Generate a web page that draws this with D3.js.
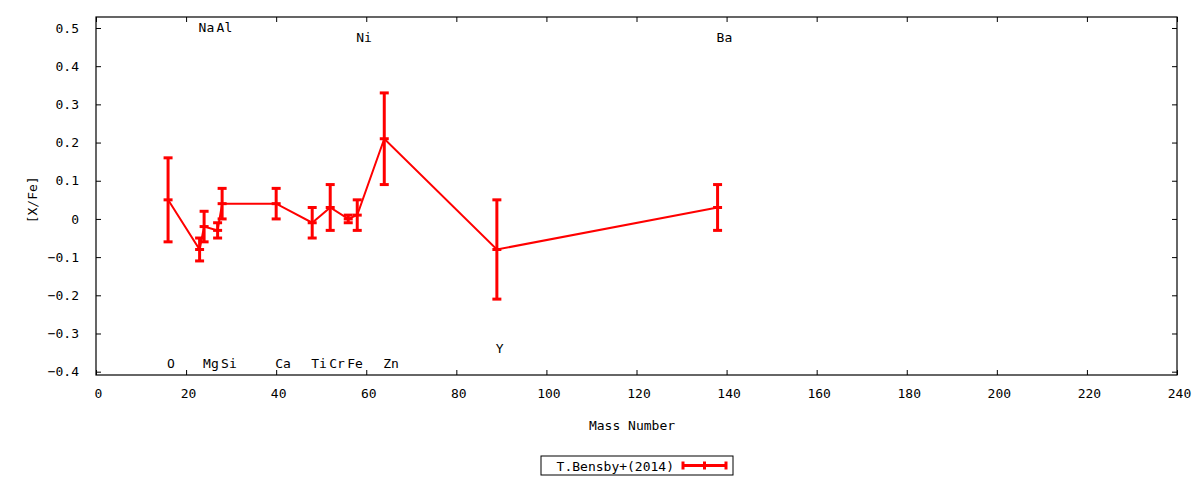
<!DOCTYPE html>
<html>
<head>
<meta charset="utf-8">
<script src="https://cdn.jsdelivr.net/npm/d3@7"></script>
<style>
  body { margin: 0; background: #fff; }
  text { font-family: "DejaVu Sans Mono", monospace; font-size: 13px; fill: #000; }
</style>
</head>
<body>
<div id="chart"></div>
<script>
// Data: element, mass number, [X/Fe], error
var elements = ["O", "Na", "Mg", "Al", "Si", "Ca", "Ti", "Cr", "Fe", "Ni", "Zn", "Y", "Ba"];
var massNumbers = [16, 23, 24, 27, 28, 40, 48, 52, 56, 58, 64, 89, 138];
var abundances = [0.05, -0.08, -0.02, -0.03, 0.04, 0.04, -0.01, 0.03, 0.00, 0.01, 0.21, -0.08, 0.03];
var errors = [0.11, 0.03, 0.04, 0.02, 0.04, 0.04, 0.04, 0.06, 0.01, 0.04, 0.12, 0.13, 0.06];
// y position (data units) of each element label
var labelY = [-0.378, 0.5, -0.378, 0.5, -0.378, -0.378, -0.378, -0.378, -0.378, 0.475, -0.378, -0.34, 0.475];

var xTicks = d3.range(0, 241, 20);
var yTicks = [-0.4, -0.3, -0.2, -0.1, 0, 0.1, 0.2, 0.3, 0.4, 0.5];
var seriesName = "T.Bensby+(2014)";

var svgWidth = 1200;
var svgHeight = 480;

var margin = { top: 17, right: 23, bottom: 105, left: 96 };
var width = svgWidth - margin.left - margin.right;
var height = svgHeight - margin.top - margin.bottom;

var svg = d3.select("#chart")
    .append("svg")
    .attr("width", svgWidth)
    .attr("height", svgHeight);

var chartGroup = svg.append("g")
    .attr("transform", `translate(${margin.left}, ${margin.top})`);

var data = elements.map(function (el, i) {
    return { el: el, mass: massNumbers[i], val: abundances[i], err: errors[i], ly: labelY[i] };
});

var xScale = d3.scaleLinear().domain([0, 240]).range([0, width]);
var yScale = d3.scaleLinear().domain([-0.4087, 0.5288]).range([height, 0]);

var fmt = function (d) { return d === 0 ? "0" : d3.format(".1f")(d); };

// Axes (gnuplot style: inward ticks, mirrored)
var bottomAxis = d3.axisBottom(xScale).tickValues(xTicks).tickSizeInner(-5).tickSizeOuter(0).tickPadding(14);
var topAxis = d3.axisTop(xScale).tickValues(xTicks).tickSizeInner(-5).tickSizeOuter(0).tickFormat("");
var leftAxis = d3.axisLeft(yScale).tickValues(yTicks).tickSizeInner(-5).tickSizeOuter(0).tickPadding(17).tickFormat(fmt);
var rightAxis = d3.axisRight(yScale).tickValues(yTicks).tickSizeInner(-5).tickSizeOuter(0).tickFormat("");

function styleAxis(g) {
    g.select(".domain").remove();
    g.selectAll("line").attr("stroke", "#000").attr("stroke-width", 1);
    g.selectAll("text").attr("font-family", "DejaVu Sans Mono").attr("font-size", 13).attr("fill", "#000");
}

chartGroup.append("g").attr("transform", `translate(0, ${height})`).call(bottomAxis).call(styleAxis)
    .selectAll("text").attr("dx", 2);
chartGroup.append("g").call(topAxis).call(styleAxis);
chartGroup.append("g").call(leftAxis).call(styleAxis);
chartGroup.append("g").attr("transform", `translate(${width}, 0)`).call(rightAxis).call(styleAxis);

chartGroup.append("rect")
    .attr("x", 0).attr("y", 0)
    .attr("width", width).attr("height", height)
    .attr("fill", "none").attr("stroke", "#000").attr("stroke-width", 1.2);

// Connecting line
var line = d3.line().x(d => xScale(d.mass)).y(d => yScale(d.val));
chartGroup.append("path")
    .datum(data)
    .attr("d", line)
    .attr("fill", "none")
    .attr("stroke", "#ff0000")
    .attr("stroke-width", 2);

// Error bars
var capW = 4.5;
var bars = chartGroup.selectAll(".ebar").data(data).enter().append("g").attr("class", "ebar");
bars.append("line")
    .attr("x1", d => xScale(d.mass)).attr("x2", d => xScale(d.mass))
    .attr("y1", d => yScale(d.val + d.err)).attr("y2", d => yScale(d.val - d.err))
    .attr("stroke", "#ff0000").attr("stroke-width", 3);
[1, -1, 0].forEach(function (s) {
    bars.append("line")
        .attr("x1", d => xScale(d.mass) - capW).attr("x2", d => xScale(d.mass) + capW)
        .attr("y1", d => yScale(d.val + s * d.err)).attr("y2", d => yScale(d.val + s * d.err))
        .attr("stroke", "#ff0000").attr("stroke-width", 3);
});

// Element labels
chartGroup.selectAll(".elabel").data(data).enter().append("text")
    .attr("class", "elabel")
    .attr("x", d => xScale(d.mass) - 1)
    .attr("y", d => yScale(d.ly))
    .attr("dominant-baseline", "central")
    .text(d => d.el);

// Axis titles
chartGroup.append("text")
    .attr("transform", "rotate(-90)")
    .attr("x", -(yScale(0.05)))
    .attr("y", -64)
    .attr("text-anchor", "middle")
    .attr("dominant-baseline", "central")
    .text("[X/Fe]");

chartGroup.append("text")
    .attr("x", xScale(119) )
    .attr("y", height + 55)
    .attr("text-anchor", "middle")
    .text("Mass Number");

// Legend
var legend = svg.append("g").attr("transform", "translate(541, 456)");
legend.append("rect")
    .attr("width", 192).attr("height", 19)
    .attr("fill", "#fff").attr("stroke", "#000").attr("stroke-width", 1);
legend.append("text")
    .attr("x", 133).attr("y", 10)
    .attr("text-anchor", "end")
    .attr("dominant-baseline", "central")
    .text(seriesName);
var lx1 = 142, lx2 = 185, ly = 9.5;
legend.append("line").attr("x1", lx1).attr("x2", lx2).attr("y1", ly).attr("y2", ly)
    .attr("stroke", "#ff0000").attr("stroke-width", 3);
[lx1, (lx1 + lx2) / 2, lx2].forEach(function (x) {
    legend.append("line").attr("x1", x).attr("x2", x).attr("y1", ly - 4).attr("y2", ly + 4)
        .attr("stroke", "#ff0000").attr("stroke-width", 3);
});
</script>
</body>
</html>
